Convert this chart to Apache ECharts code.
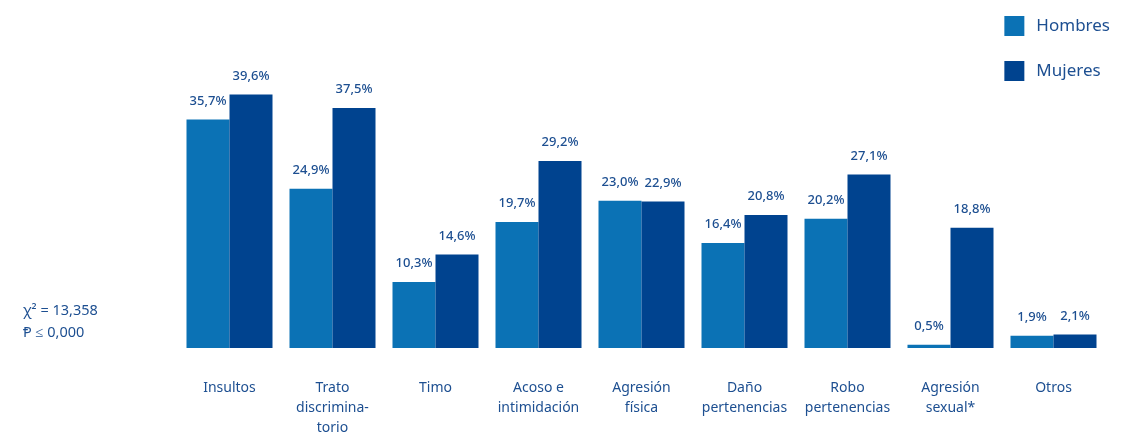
<!DOCTYPE html>
<html><head><meta charset="utf-8">
<script src="https://cdn.jsdelivr.net/npm/echarts@6/dist/echarts.min.js"></script>
<style>html,body{margin:0;padding:0;background:#fff}#c{width:1135px;height:438px}</style>
</head><body><div id="c"></div>
<script>
const categories = ['Insultos', 'Trato\ndiscrimina-\ntorio', 'Timo', 'Acoso e\nintimidación', 'Agresión\nfísica', 'Daño\npertenencias', 'Robo\npertenencias', 'Agresión\nsexual*', 'Otros'];
const hombres = [35.7, 24.9, 10.3, 19.7, 23.0, 16.4, 20.2, 0.5, 1.9];
const mujeres = [39.6, 37.5, 14.6, 29.2, 22.9, 20.8, 27.1, 18.8, 2.1];
const statLines = ['χ² = 13,358', 'Ᵽ ≤ 0,000'];

const txt = '#1d4f91';
const font = 'Noto Sans';
const fmt = p => p.value.toFixed(1).replace('.', ',') + '%';
const lbl = {show: true, position: 'top', distance: 12, color: txt, fontFamily: font, fontSize: 13, fontWeight: 500, formatter: fmt};

const chart = echarts.init(document.getElementById('c'));
chart.setOption({
  animation: false,
  textStyle: {fontFamily: font},
  grid: {left: 178, right: 30, top: 28, bottom: 89},
  legend: {
    orient: 'vertical', right: 20, top: 11, itemWidth: 20, itemHeight: 20, itemGap: 25,
    icon: 'rect', textStyle: {color: txt, fontSize: 17, fontFamily: font, padding: [0, 0, 0, 7]},
    data: ['Hombres', 'Mujeres']
  },
  graphic: [{
    type: 'text', left: 23, top: 300,
    style: {text: statLines.join('\n'), fill: txt, font: '14.5px "Noto Sans"', lineHeight: 22}
  }],
  xAxis: {
    type: 'category', data: categories,
    axisLine: {show: false}, axisTick: {show: false},
    axisLabel: {color: txt, fontSize: 14, fontFamily: font, lineHeight: 20, margin: 30, interval: 0}
  },
  yAxis: {type: 'value', min: 0, max: 50, show: false, splitLine: {show: false}},
  series: [
    {name: 'Hombres', type: 'bar', data: hombres, barWidth: 43, barGap: '0%', itemStyle: {color: '#0b72b5'}, label: lbl},
    {name: 'Mujeres', type: 'bar', data: mujeres, barWidth: 43, itemStyle: {color: '#00438f'}, label: lbl}
  ]
});
</script></body></html>
